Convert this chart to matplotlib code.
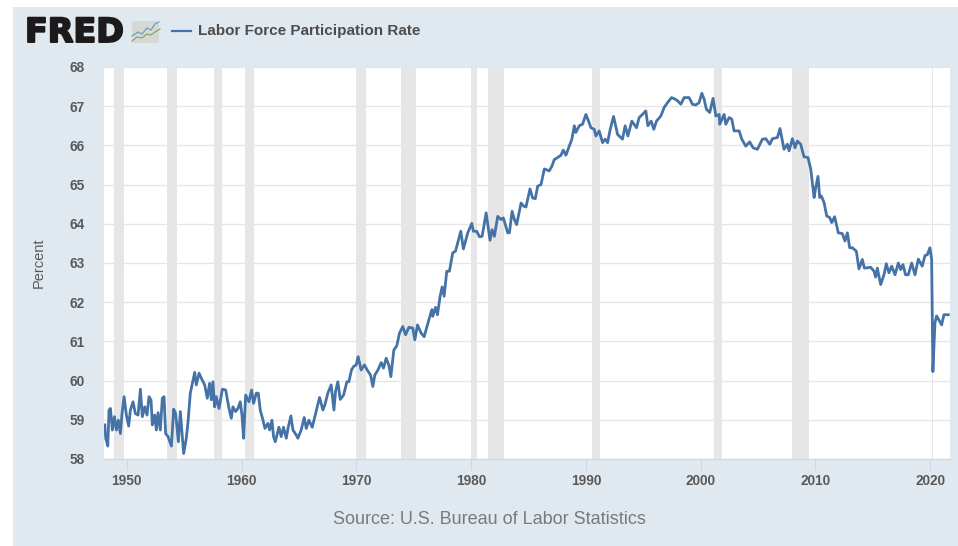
import matplotlib
matplotlib.use("Agg")
import matplotlib.pyplot as plt
import matplotlib.patheffects as pe
from matplotlib.patches import Rectangle, FancyBboxPatch

# values: (decimal year, percent)
years_a = [1948.09, 1948.17, 1948.35, 1948.46, 1948.58, 1948.75, 1948.93, 1949.1, 1949.27, 1949.45, 1949.59, 1949.77, 1949.97,
           1950.17, 1950.32, 1950.55, 1950.75, 1950.99, 1951.19, 1951.36, 1951.57, 1951.77, 1951.94, 1952.12, 1952.23, 1952.44,
           1952.58, 1952.73, 1952.93, 1953.1, 1953.25, 1953.39, 1953.6, 1953.89, 1954.09, 1954.26, 1954.5, 1954.67, 1954.96,
           1955.19, 1955.34, 1955.54, 1955.92, 1956.06, 1956.3, 1956.5, 1956.79, 1957.02, 1957.22, 1957.37, 1957.51, 1957.66,
           1957.8, 1958.04, 1958.33, 1958.62, 1958.91, 1959.11, 1959.25, 1959.49, 1959.69, 1959.89, 1960.04, 1960.18, 1960.36,
           1960.65, 1960.88, 1961.05, 1961.29, 1961.46, 1961.63, 1961.87, 1962.04, 1962.3, 1962.45, 1962.65, 1962.79, 1962.94,
           1963.26, 1963.46, 1963.66, 1963.9, 1964.07, 1964.3, 1964.48, 1964.77, 1964.91, 1965.2, 1965.46, 1965.64, 1965.87,
           1966.16, 1966.56, 1966.8, 1967.09, 1967.26, 1967.52, 1967.81, 1968.05, 1968.19, 1968.39, 1968.6, 1968.89, 1969.18,
           1969.35, 1969.58, 1969.76, 1969.99, 1970.16, 1970.42, 1970.71, 1970.95, 1971.24, 1971.44, 1971.61, 1971.88, 1972.17,
           1972.37, 1972.6, 1972.83]
rate_a = [58.87, 58.53, 58.33, 59.25, 59.29, 58.74, 59.08, 58.74, 58.99, 58.65, 59.16, 59.59, 59.12,
          58.84, 59.25, 59.46, 59.16, 59.12, 59.78, 59.08, 59.33, 59.12, 59.59, 59.5, 58.87, 59.12,
          58.74, 59.18, 58.74, 59.55, 59.59, 58.65, 58.57, 58.33, 59.27, 59.16, 58.44, 59.21, 58.14,
          58.53, 58.95, 59.68, 60.21, 59.89, 60.19, 60.06, 59.89, 59.55, 59.93, 59.51, 59.97, 59.33,
          59.59, 59.29, 59.78, 59.76, 59.29, 59.04, 59.33, 59.21, 59.29, 59.46, 59.12, 58.53, 59.63,
          59.46, 59.76, 59.42, 59.68, 59.68, 59.25, 58.99, 58.78, 58.91, 58.74, 58.99, 58.57, 58.44,
          58.81, 58.57, 58.81, 58.53, 58.81, 59.1, 58.74, 58.61, 58.53, 58.74, 59.06, 58.78, 58.99,
          58.81, 59.29, 59.57, 59.25, 59.38, 59.68, 59.89, 59.25, 59.72, 59.97, 59.52, 59.63, 59.97,
          59.97, 60.27, 60.36, 60.4, 60.61, 60.27, 60.4, 60.27, 60.14, 59.85, 60.14, 60.27, 60.46,
          60.32, 60.57, 60.4]

years_b = [1973.01, 1973.27, 1973.53, 1973.76, 1974.05, 1974.29, 1974.58, 1974.92, 1975.1, 1975.33, 1975.65, 1975.91, 1976.32,
           1976.58, 1976.66, 1976.9, 1977.07, 1977.3, 1977.48, 1977.65, 1977.88, 1978.11, 1978.4, 1978.64, 1979.1, 1979.33,
           1979.71, 1980.06, 1980.2, 1980.49, 1980.73, 1980.96, 1981.31, 1981.65, 1981.83, 1982.03, 1982.32, 1982.61, 1982.81,
           1983.19, 1983.34, 1983.57, 1983.77, 1983.97, 1984.35, 1984.58, 1984.78, 1985.13, 1985.36, 1985.59, 1985.8, 1986.09,
           1986.38]
rate_b = [60.1, 60.78, 60.89, 61.21, 61.38, 61.17, 61.36, 61.34, 61.04, 61.42, 61.21, 61.12, 61.55,
          61.81, 61.64, 61.87, 61.68, 62.15, 62.39, 62.15, 62.79, 62.79, 63.26, 63.3, 63.81, 63.36,
          63.77, 64.01, 63.81, 63.81, 63.67, 63.68, 64.28, 63.58, 63.85, 63.68, 64.19, 64.11, 64.15,
          63.77, 63.77, 64.32, 64.11, 63.98, 64.53, 64.45, 64.43, 64.89, 64.66, 64.64, 64.96, 65.0,
          65.4]

years_c = [1986.81, 1987.04, 1987.25, 1987.54, 1987.83, 1988.03, 1988.26, 1988.55, 1988.78, 1988.99, 1989.13, 1989.42, 1989.71,
           1990.0, 1990.23, 1990.44, 1990.73, 1990.87, 1991.16, 1991.45, 1991.68, 1991.89, 1992.12, 1992.41, 1992.76, 1993.19,
           1993.42, 1993.66, 1994.0, 1994.41, 1994.64, 1994.93, 1995.22, 1995.4, 1995.69, 1995.92, 1996.15, 1996.53, 1996.82,
           1997.11, 1997.46, 1997.78, 1997.98, 1998.27, 1998.56, 1998.99, 1999.28, 1999.57, 1999.86, 2000.1, 2000.3, 2000.5,
           2000.79, 2001.08, 2001.32, 2001.61, 2001.66, 2002.04, 2002.19, 2002.48, 2002.71, 2002.91, 2003.35, 2003.58, 2003.93,
           2004.27, 2004.56, 2004.94, 2005.38, 2005.67, 2006.02, 2006.25, 2006.68, 2006.91, 2007.26, 2007.55, 2007.7, 2007.99,
           2008.22, 2008.42, 2008.71, 2009.0, 2009.35]
rate_c = [65.35, 65.47, 65.64, 65.69, 65.75, 65.88, 65.75, 65.98, 66.16, 66.5, 66.33, 66.5, 66.54,
          66.79, 66.62, 66.45, 66.41, 66.24, 66.37, 66.07, 66.16, 66.07, 66.41, 66.74, 66.28, 66.16,
          66.5, 66.24, 66.62, 66.45, 66.71, 66.79, 66.88, 66.5, 66.62, 66.41, 66.62, 66.75, 66.97,
          67.09, 67.22, 67.18, 67.14, 67.05, 67.22, 67.22, 67.05, 67.03, 67.09, 67.33, 67.18, 66.92,
          66.84, 67.2, 66.75, 66.79, 66.54, 66.79, 66.54, 66.71, 66.67, 66.37, 66.37, 66.16, 65.98,
          66.09, 65.94, 65.9, 66.16, 66.17, 66.03, 66.17, 66.2, 66.43, 65.9, 66.03, 65.86, 66.17,
          65.94, 66.11, 66.03, 65.71, 65.69]

years_d = [2009.59, 2009.73, 2009.88, 2010.02, 2010.22, 2010.37, 2010.51, 2010.75, 2010.98, 2011.24, 2011.42, 2011.67, 2011.99,
           2012.34, 2012.57, 2012.78, 2012.98, 2013.21, 2013.56, 2013.79, 2014.08, 2014.26, 2014.81, 2015.1, 2015.24, 2015.39,
           2015.68, 2015.97, 2016.17, 2016.4, 2016.64, 2016.93, 2017.22, 2017.42, 2017.62, 2017.85, 2018.09, 2018.38, 2018.67,
           2018.96, 2019.3, 2019.54, 2019.74, 2019.97, 2020.12, 2020.23, 2020.41, 2020.55, 2020.75, 2020.99, 2021.19, 2021.57]
rate_d = [65.39, 65.05, 64.67, 64.92, 65.21, 64.67, 64.71, 64.54, 64.2, 64.16, 64.03, 64.18, 63.77,
          63.75, 63.56, 63.77, 63.39, 63.39, 63.3, 62.85, 63.09, 62.87, 62.89, 62.79, 62.64, 62.87,
          62.45, 62.7, 62.98, 62.75, 62.92, 62.7, 63.0, 62.83, 62.96, 62.7, 62.7, 63.0, 62.7,
          63.1, 62.92, 63.19, 63.21, 63.39, 63.09, 60.23, 61.47, 61.65, 61.55, 61.42, 61.68, 61.68]

years = years_a + years_b + years_c + years_d
rate = rate_a + rate_b + rate_c + rate_d

rec_start = [1948.85, 1953.5, 1957.6, 1960.27, 1969.95, 1973.87, 1980.0, 1981.5, 1990.5, 2001.2, 2007.92, 2020.12]
rec_end = [1949.8, 1954.37, 1958.3, 1961.12, 1970.87, 1975.2, 1980.5, 1982.87, 1991.2, 2001.87, 2009.47, 2020.25]

x_ticks = [1950, 1960, 1970, 1980, 1990, 2000, 2010, 2020]
y_ticks = [58, 59, 60, 61, 62, 63, 64, 65, 66, 67, 68]

W, H = 958, 546
panel = "#e1e9f0"
grey = "#595959"
font = ["Liberation Sans", "DejaVu Sans"]
plt.rcParams["font.family"] = font

fig = plt.figure(figsize=(W / 100, H / 100), dpi=100, facecolor="white")

# whole figure in pixel coords, for the panel, logo and legend
bg = fig.add_axes([0, 0, 1, 1], zorder=0)
bg.set_xlim(0, W)
bg.set_ylim(H, 0)
bg.axis("off")
bg.add_patch(Rectangle((13, 7), W - 13, H - 7, fc=panel, ec="none"))

bg.text(25, 32.5, "FRED", family="DejaVu Sans", weight="bold", fontsize=24, color="#1c1a1a", va="center", ha="left",
        path_effects=[pe.withStroke(linewidth=1.4, foreground="#1c1a1a")])
bg.add_patch(FancyBboxPatch((132, 21), 27, 22, boxstyle="round,pad=0,rounding_size=3", fc="#d5d8d6", ec="none"))
bg.plot([132, 138, 142, 147, 151, 155, 159], [36, 32, 34, 28, 30, 24, 22], color="#6a97b8", lw=0.8)
bg.plot([132, 137, 142, 147, 151, 155, 160], [41, 37, 38, 34, 35, 32, 29], color="#7fa35a", lw=0.8)

bg.plot([172, 191], [30.5, 30.5], color="#4572a7", lw=1.6)
bg.text(198, 30.5, "Labor Force Participation Rate", weight="bold", fontsize=11, color="#4d4d4d", va="center", ha="left")
bg.text(489, 519, "Source: U.S. Bureau of Labor Statistics", fontsize=13, color="#7a7a7a", va="center", ha="center")

ax = fig.add_axes([104 / W, (H - 459) / H, 846 / W, 392 / H], zorder=1)
ax.set_facecolor("white")
ax.set_xlim(1948.02, 2021.72)
ax.set_ylim(58, 68)

for s, e in zip(rec_start, rec_end):
    ax.axvspan(s, e, color="#e6e6e6", lw=0, zorder=1)
ax.grid(axis="y", color="#e6e6e6", lw=1)
ax.set_axisbelow(True)
ax.plot(years, rate, color="#4572a7", lw=2.0, solid_joinstyle="round", zorder=3)

ax.set_xticks(x_ticks)
ax.set_yticks(y_ticks)
ax.tick_params(axis="x", length=8, width=0.8, color="#ccd6eb", labelcolor=grey, labelsize=9.8, pad=2.5)
ax.tick_params(axis="y", length=0, labelcolor=grey, labelsize=9.8, pad=14)
for lab in ax.get_xticklabels() + ax.get_yticklabels():
    lab.set_fontweight("bold")
for side in ["top", "left", "right"]:
    ax.spines[side].set_visible(False)
ax.spines["bottom"].set_color("#ccd6eb")
ax.set_ylabel("Percent", fontsize=10.5, color=grey, labelpad=0)
ax.yaxis.set_label_coords((46 - 104) / 846, 0.5)

fig.savefig("out.png", dpi=100, facecolor="white")
